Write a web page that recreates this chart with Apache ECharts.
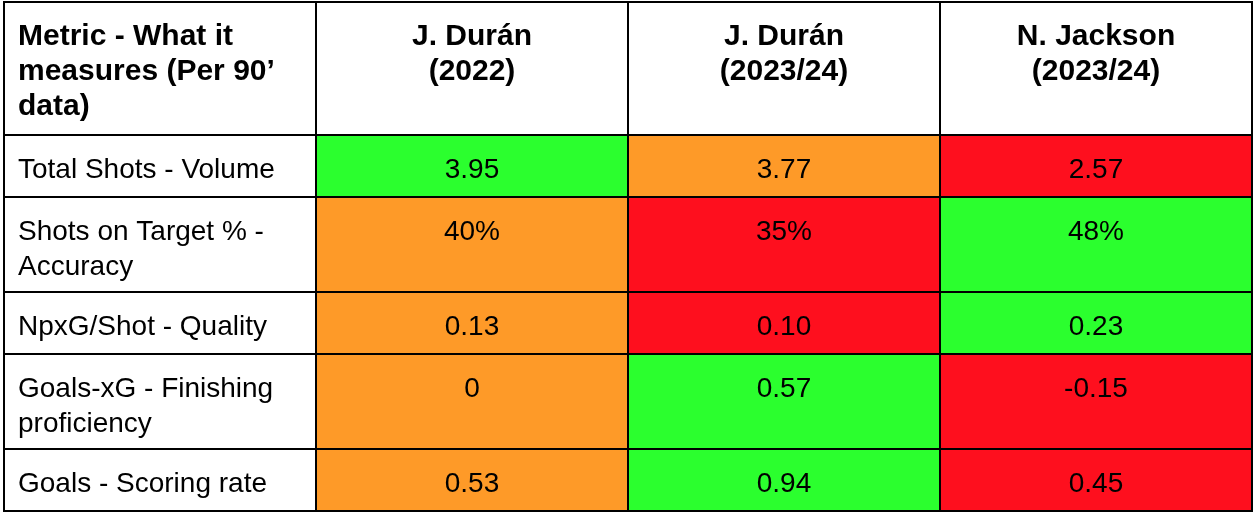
<!DOCTYPE html>
<html><head><meta charset="utf-8">
<script src="https://cdn.jsdelivr.net/npm/echarts@6/dist/echarts.min.js"></script>
<style>html,body{margin:0;padding:0;background:#fff}#c{width:1256px;height:518px}</style>
</head><body><div id="c"></div>
<script>
// ---- data ----
const headerLabels = ["Metric - What it measures (Per 90’ data)", "J. Durán\n(2022)", "J. Durán\n(2023/24)", "N. Jackson\n(2023/24)"];
const metrics = ["Total Shots - Volume", "Shots on Target % - Accuracy", "NpxG/Shot - Quality", "Goals-xG - Finishing proficiency", "Goals - Scoring rate"];
const duran2022 = ["3.95", "40%", "0.13", "0", "0.53"];
const duran2324 = ["3.77", "35%", "0.10", "0.57", "0.94"];
const jackson2324 = ["2.57", "48%", "0.23", "-0.15", "0.45"];

// ---- styles / layout ----
const FONT_FAMILY = '"Liberation Sans", Arial, Helvetica, sans-serif';
const HEADER_FONT = 'bold 30px ' + FONT_FAMILY;
const BODY_FONT = '28px ' + FONT_FAMILY;
const RANK_COLORS = ['#fe0f1e', '#fe9a28', '#2bff2e']; // lowest, middle, highest
const COLS = 4, PAD_X = 14, LINE_H = 35, PAD_TOP = 17.5;
const ROW_H = {1: 62, 2: 95, 3: 133};

const cvs = document.createElement('canvas').getContext('2d');
function wrap(text, font, maxW) {
  cvs.font = font;
  const out = [];
  text.split('\n').forEach(par => {
    let line = '';
    par.split(' ').forEach(w => {
      const t = line ? line + ' ' + w : w;
      if (line && cvs.measureText(t).width > maxW) { out.push(line); line = w; }
      else line = t;
    });
    out.push(line);
  });
  return out;
}

const players = [duran2022, duran2324, jackson2324];
const colW = 1248 / COLS;
const rows = [];
rows.push(headerLabels.map(t => ({text: wrap(t, HEADER_FONT, colW - 2 * PAD_X), font: HEADER_FONT, fill: '#fff'})));
metrics.forEach((m, r) => {
  const vals = players.map(p => parseFloat(p[r]));
  const order = vals.map((v, i) => i).sort((a, b) => vals[a] - vals[b]);
  const rank = [];
  order.forEach((idx, k) => rank[idx] = k);
  const row = [{text: wrap(m, BODY_FONT, colW - 2 * PAD_X), font: BODY_FONT, fill: '#fff'}];
  players.forEach((p, i) => row.push({text: [p[r]], font: BODY_FONT, fill: RANK_COLORS[rank[i]]}));
  rows.push(row);
});
const rowTop = [0];
rows.forEach(row => {
  const n = Math.max.apply(null, row.map(c => c.text.length));
  rowTop.push(rowTop[rowTop.length - 1] + ROW_H[n]);
});
const totalH = rowTop[rowTop.length - 1];

const cells = [];
rows.forEach((row, r) => row.forEach((c, col) => cells.push([col, r])));

const chart = echarts.init(document.getElementById('c'));
chart.setOption({
  animation: false,
  grid: {left: 4, right: 4, top: 2, bottom: 7},
  xAxis: {type: 'value', min: 0, max: COLS, show: false},
  yAxis: {type: 'value', min: 0, max: totalH, inverse: true, show: false},
  series: [{
    type: 'custom',
    coordinateSystem: 'cartesian2d',
    clip: false,
    silent: true,
    data: cells,
    renderItem: function (params, api) {
      const col = api.value(0), r = api.value(1);
      const c = rows[r][col];
      const p0 = api.coord([col, rowTop[r]]);
      const p1 = api.coord([col + 1, rowTop[r + 1]]);
      const left = col === 0;
      return {
        type: 'group',
        children: [{
          type: 'rect',
          shape: {x: p0[0], y: p0[1], width: p1[0] - p0[0], height: p1[1] - p0[1]},
          style: {fill: c.fill, stroke: '#000', lineWidth: 2}
        }, {
          type: 'text',
          style: {
            text: c.text.join('\n'),
            x: left ? p0[0] + PAD_X : (p0[0] + p1[0]) / 2,
            y: p0[1] + PAD_TOP,
            align: left ? 'left' : 'center',
            verticalAlign: 'top',
            font: c.font,
            lineHeight: LINE_H,
            fill: '#000'
          }
        }]
      };
    }
  }]
});
</script>
</body></html>
